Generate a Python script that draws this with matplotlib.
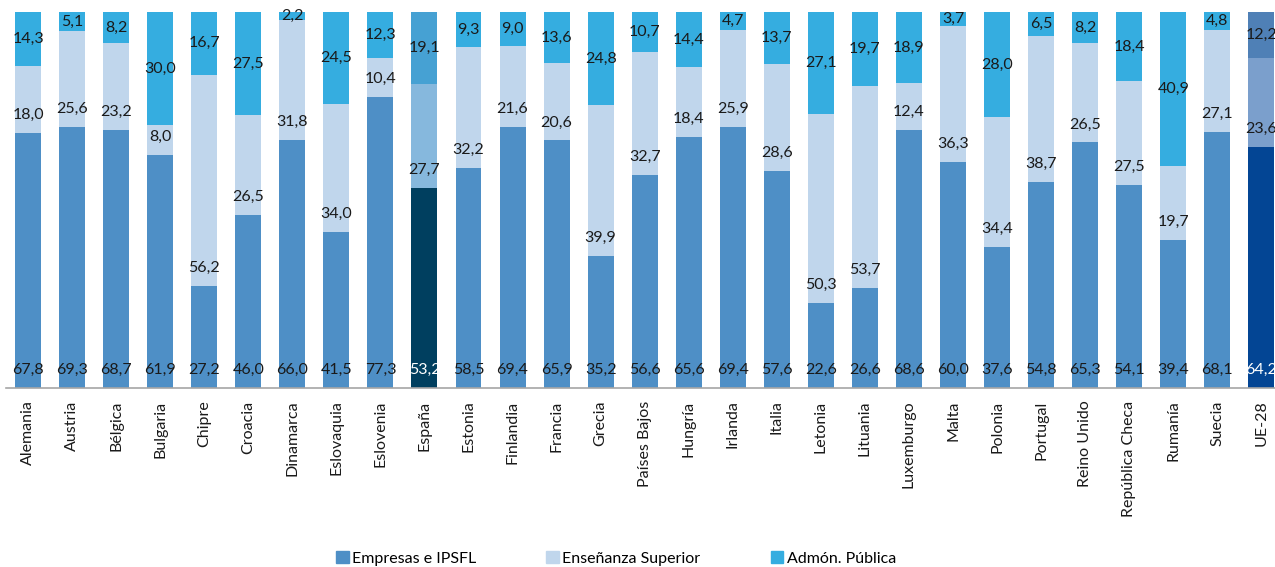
import numpy as np
import pandas as pd
from matplotlib import pyplot as plt

paises = ['Alemania', 'Austria', 'Bélgica', 'Bulgaria', 'Chipre', 'Croacia', 'Dinamarca',
          'Eslovaquia', 'Eslovenia', 'España', 'Estonia', 'Finlandia', 'Francia', 'Grecia',
          'Países Bajos', 'Hungría', 'Irlanda', 'Italia', 'Letonia', 'Lituania', 'Luxemburgo',
          'Malta', 'Polonia', 'Portugal', 'Reino Unido', 'República Checa', 'Rumanía',
          'Suecia', 'UE-28']

empresas = [67.8, 69.3, 68.7, 61.9, 27.2, 46.0, 66.0, 41.5, 77.3, 53.2, 58.5, 69.4, 65.9, 35.2,
            56.6, 65.6, 69.4, 57.6, 22.6, 26.6, 68.6, 60.0, 37.6, 54.8, 65.3, 54.1, 39.4, 68.1, 64.2]
ensenanza = [18.0, 25.6, 23.2, 8.0, 56.2, 26.5, 31.8, 34.0, 10.4, 27.7, 32.2, 21.6, 20.6, 39.9,
             32.7, 18.4, 25.9, 28.6, 50.3, 53.7, 12.4, 36.3, 34.4, 38.7, 26.5, 27.5, 19.7, 27.1, 23.6]
admon = [14.3, 5.1, 8.2, 30.0, 16.7, 27.5, 2.2, 24.5, 12.3, 19.1, 9.3, 9.0, 13.6, 24.8,
         10.7, 14.4, 4.7, 13.7, 27.1, 19.7, 18.9, 3.7, 28.0, 6.5, 8.2, 18.4, 40.9, 4.8, 12.2]

series = ['Empresas e IPSFL', 'Enseñanza Superior', 'Admón. Pública']

plt.rcParams['font.family'] = ['Lato', 'DejaVu Sans']

df = pd.DataFrame({series[0]: empresas, series[1]: ensenanza, series[2]: admon}, index=paises)
pct = df.div(df.sum(axis=1), axis=0) * 100  # 100% apilado como en Excel

colores = {series[0]: '#4e8fc6', series[1]: '#c0d6ec', series[2]: '#35ade0'}
especiales = {'España': ['#003f5f', '#86b8dd', '#46a1d3'],
              'UE-28': ['#034594', '#7b9fcc', '#4f80b6']}

fig = plt.figure(figsize=(12.75, 5.67), dpi=100)
ax = fig.add_axes([6 / 1275, 179 / 567, 1 - 6 / 1275, 376 / 567])

x = np.arange(len(paises))
base = np.zeros(len(paises))
for k, s in enumerate(series):
    cols = [especiales[p][k] if p in especiales else colores[s] for p in paises]
    ax.bar(x, pct[s].values, 0.59, bottom=base, color=cols, label=s)
    for i, p in enumerate(paises):
        txt = f'{df[s].iloc[i]:.1f}'.replace('.', ',')
        tc = 'white' if (k == 0 and p in especiales) else '#1a1a1a'
        if k == 2:
            ax.text(i, base[i] + pct[s].iloc[i] / 2, txt, ha='center', va='center',
                    fontsize=11.5, color=tc)
        else:
            ax.annotate(txt, (i, base[i]), xytext=(0, 13), textcoords='offset points',
                        ha='center', va='center', fontsize=11.5, color=tc)
    base += pct[s].values

ax.set_xlim(-0.5, 28.31)
ax.set_ylim(0, 100)
ax.set_xticks(x)
ax.set_xticklabels(paises, rotation=90, fontsize=11.5, color='#1a1a1a')
ax.tick_params(axis='x', length=0, pad=9)
ax.set_yticks([])
for side in ['top', 'right', 'left']:
    ax.spines[side].set_visible(False)
ax.spines['bottom'].set_color('#a6a6a6')
ax.spines['bottom'].set_linewidth(1.2)

handles = [plt.Rectangle((0, 0), 1, 1, color=colores[s]) for s in series]
fig.legend(handles, series, loc='center', bbox_to_anchor=(0.483, 0.015), ncol=3,
           frameon=False, fontsize=11.5, handlelength=0.8, handleheight=0.7,
           handletextpad=0.2, columnspacing=4.4)

fig.savefig('out.png', dpi=100)
